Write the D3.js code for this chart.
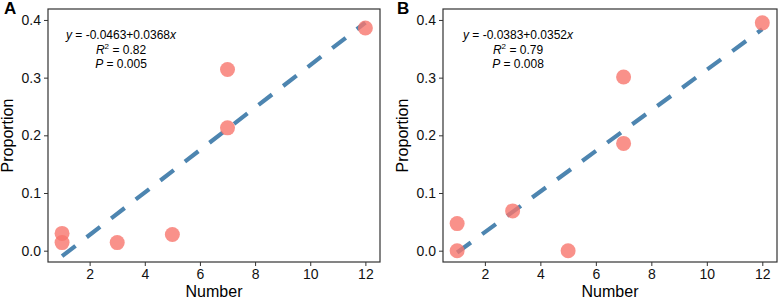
<!DOCTYPE html>
<html>
<head>
<meta charset="utf-8">
<script src="https://cdn.jsdelivr.net/npm/d3@7"></script>
<style>
  body { margin: 0; background: #fff; }
  svg { display: block; font-family: "Liberation Sans", Arial, sans-serif; }
</style>
</head>
<body>
<svg id="chart" width="780" height="300"></svg>
<script>
// data
const xTicks = [2, 4, 6, 8, 10, 12];
const yTicks = [0.0, 0.1, 0.2, 0.3, 0.4];

const numberA = [1, 1, 3, 5, 7, 7, 12];
const propA = [0.030, 0.014, 0.014, 0.028, 0.314, 0.213, 0.386];
const fitA = [-0.0463, 0.0368];
const statsA = ["-0.0463+0.0368", "0.82", "0.005"];

const numberB = [1, 1, 3, 5, 7, 7, 12];
const propB = [0.047, 0.0, 0.069, 0.0, 0.301, 0.186, 0.395];
const fitB = [-0.0383, 0.0352];
const statsB = ["-0.0383+0.0352", "0.79", "0.008"];

const svg = d3.select("#chart");

// one panel
function drawPanel(opt) {
    const x = d3.scaleLinear().domain([0.49, 12.53]).range([opt.left, opt.right]);
    const y = d3.scaleLinear().domain([-0.0196, 0.419]).range([262, 9]);
    const g = svg.append("g");

    // fit line
    const lineData = [1, 12].map(v => [v, opt.fit[0] + opt.fit[1] * v]);
    g.append("path")
        .datum(lineData)
        .attr("d", d3.line().x(d => x(d[0])).y(d => y(d[1])))
        .attr("fill", "none")
        .attr("stroke", "#4D85B0")
        .attr("stroke-width", 4.2)
        .attr("stroke-dasharray", "17,14");

    // points
    g.selectAll("circle")
        .data(opt.xs.map((v, i) => [v, opt.ys[i]]))
        .join("circle")
        .attr("cx", d => x(d[0]))
        .attr("cy", d => y(d[1]))
        .attr("r", 7.5)
        .attr("fill", "#F8766D")
        .attr("fill-opacity", 0.8);

    // frame
    g.append("rect")
        .attr("x", opt.left).attr("y", 9)
        .attr("width", opt.right - opt.left).attr("height", 262 - 9)
        .attr("fill", "none").attr("stroke", "#333").attr("stroke-width", 1.2);

    // axes
    const xAxis = g.append("g")
        .attr("transform", "translate(0,262)")
        .call(d3.axisBottom(x).tickValues(xTicks).tickSize(4).tickPadding(3));
    const yAxis = g.append("g")
        .attr("transform", `translate(${opt.left},0)`)
        .call(d3.axisLeft(y).tickValues(yTicks).tickFormat(d3.format(".1f")).tickSize(4).tickPadding(3));
    [xAxis, yAxis].forEach(a => {
        a.select(".domain").remove();
        a.selectAll("line").attr("stroke", "#333");
        a.selectAll("text").attr("font-size", 14).attr("fill", "#111")
            .attr("font-family", "'Liberation Sans', Arial, sans-serif");
    });

    // axis titles
    g.append("text")
        .attr("x", (opt.left + opt.right) / 2).attr("y", 297)
        .attr("text-anchor", "middle").attr("font-size", 16).text("Number");
    g.append("text")
        .attr("transform", `translate(${opt.left - 35},${(9 + 262) / 2}) rotate(-90)`)
        .attr("text-anchor", "middle").attr("font-size", 16).text("Proportion");

    // panel letter
    g.append("text")
        .attr("x", opt.letterX).attr("y", 14)
        .attr("font-size", 17).attr("font-weight", "bold").text(opt.label);

    // annotation
    const t = g.append("g").attr("font-size", 12).attr("text-anchor", "middle");
    const l1 = t.append("text").attr("x", opt.annX).attr("y", 39);
    l1.append("tspan").attr("font-style", "italic").text("y");
    l1.append("tspan").text(" = " + opt.stats[0]);
    l1.append("tspan").attr("font-style", "italic").text("x");
    const l2 = t.append("text").attr("x", opt.annX).attr("y", 54);
    l2.append("tspan").attr("font-style", "italic").text("R");
    l2.append("tspan").attr("font-size", 8).attr("dy", -5).text("2");
    l2.append("tspan").attr("dy", 5).text(" = " + opt.stats[1]);
    const l3 = t.append("text").attr("x", opt.annX).attr("y", 68);
    l3.append("tspan").attr("font-style", "italic").text("P");
    l3.append("tspan").text(" = " + opt.stats[2]);
}

drawPanel({ label: "A", letterX: 4, left: 48, right: 380, xs: numberA, ys: propA, fit: fitA, stats: statsA, annX: 121 });
drawPanel({ label: "B", letterX: 397, left: 443, right: 777, xs: numberB, ys: propB, fit: fitB, stats: statsB, annX: 518 });
</script>
</body>
</html>
